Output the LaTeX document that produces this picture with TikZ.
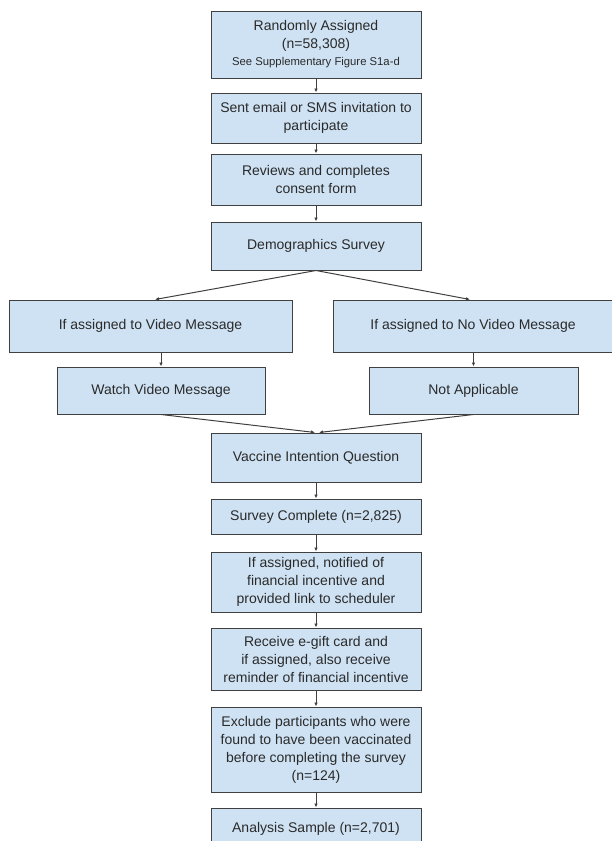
\documentclass[tikz,border=0pt]{standalone}
\usepackage{fontspec}
\setmainfont{Liberation Sans}
\usepackage{xcolor}
\usepackage{tikz}
\usetikzlibrary{arrows.meta}

\definecolor{boxblue}{HTML}{CFE2F3}
\definecolor{boxline}{HTML}{404040}
\definecolor{txtgray}{HTML}{2A2A2A}

\begin{document}
\begin{tikzpicture}[x=1pt, y=-1pt, >={Latex[length=4pt, width=3.5pt]},
    box/.style={draw=boxline, fill=boxblue, line width=1pt, inner sep=0pt, align=center,
                text=txtgray, font=\fontsize{14}{18}\selectfont},
    flow/.style={->, draw=boxline, line width=1pt}]
    \useasboundingbox (0, 0) rectangle (612, 841);

    % main column
    \node [box, minimum width=210, minimum height=67] (assigned) at (316, 44.5)
        {Randomly Assigned\\(n=58,308)\\[-1pt]{\fontsize{11.3}{14}\selectfont See Supplementary Figure S1a-d}};
    \node [box, minimum width=210, minimum height=50] (invite) at (316, 118)
        {Sent email or SMS invitation to\\participate};
    \node [box, minimum width=210, minimum height=51] (consent) at (316, 179.5)
        {Reviews and completes\\consent form};
    \node [box, minimum width=210, minimum height=48] (demog) at (316, 246) {Demographics Survey};

    % two arms
    \node [box, minimum width=283, minimum height=52] (video) at (150.5, 326) {If assigned to Video Message};
    \node [box, minimum width=280, minimum height=52] (novideo) at (473, 326) {If assigned to No Video Message};
    \node [box, minimum width=208, minimum height=47] (watch) at (161, 390.5) {Watch Video Message};
    \node [box, minimum width=209, minimum height=47] (notappl) at (473.5, 390.5) {Not Applicable};

    % after the message
    \node [box, minimum width=210, minimum height=49] (intention) at (316, 457.5) {Vaccine Intention Question};
    \node [box, minimum width=210, minimum height=35] (complete) at (316, 516.5) {Survey Complete (n=2,825)};
    \node [box, minimum width=210, minimum height=60] (notified) at (316, 582)
        {If assigned, notified of\\financial incentive and\\provided link to scheduler};
    \node [box, minimum width=210, minimum height=62] (giftcard) at (316, 659)
        {Receive e-gift card and\\if assigned, also receive\\reminder of financial incentive};
    \node [box, minimum width=210, minimum height=85] (exclude) at (316, 749.5)
        {Exclude participants who were\\found to have been vaccinated\\before completing the survey\\(n=124)};
    \node [box, minimum width=210, minimum height=42] (sample) at (316, 829) {Analysis Sample (n=2,701)};

    % arrows
    \draw [flow] (assigned) -- (invite);
    \draw [flow] (invite) -- (consent);
    \draw [flow] (consent) -- (demog);
    \draw [flow] (demog.south) -- ([xshift=4.5]video.north);
    \draw [flow] (demog.south) -- ([xshift=-3]novideo.north);
    \draw [flow] (watch.north |- video.south) -- (watch.north);
    \draw [flow] (notappl.north |- novideo.south) -- (notappl.north);
    \draw [flow] (watch.south) -- ([xshift=-1]intention.north);
    \draw [flow] (notappl.south) -- ([xshift=3]intention.north);
    \draw [flow] (intention) -- (complete);
    \draw [flow] (complete) -- (notified);
    \draw [flow] (notified) -- (giftcard);
    \draw [flow] (giftcard) -- (exclude);
    \draw [flow] (exclude) -- (sample);
\end{tikzpicture}
\end{document}
